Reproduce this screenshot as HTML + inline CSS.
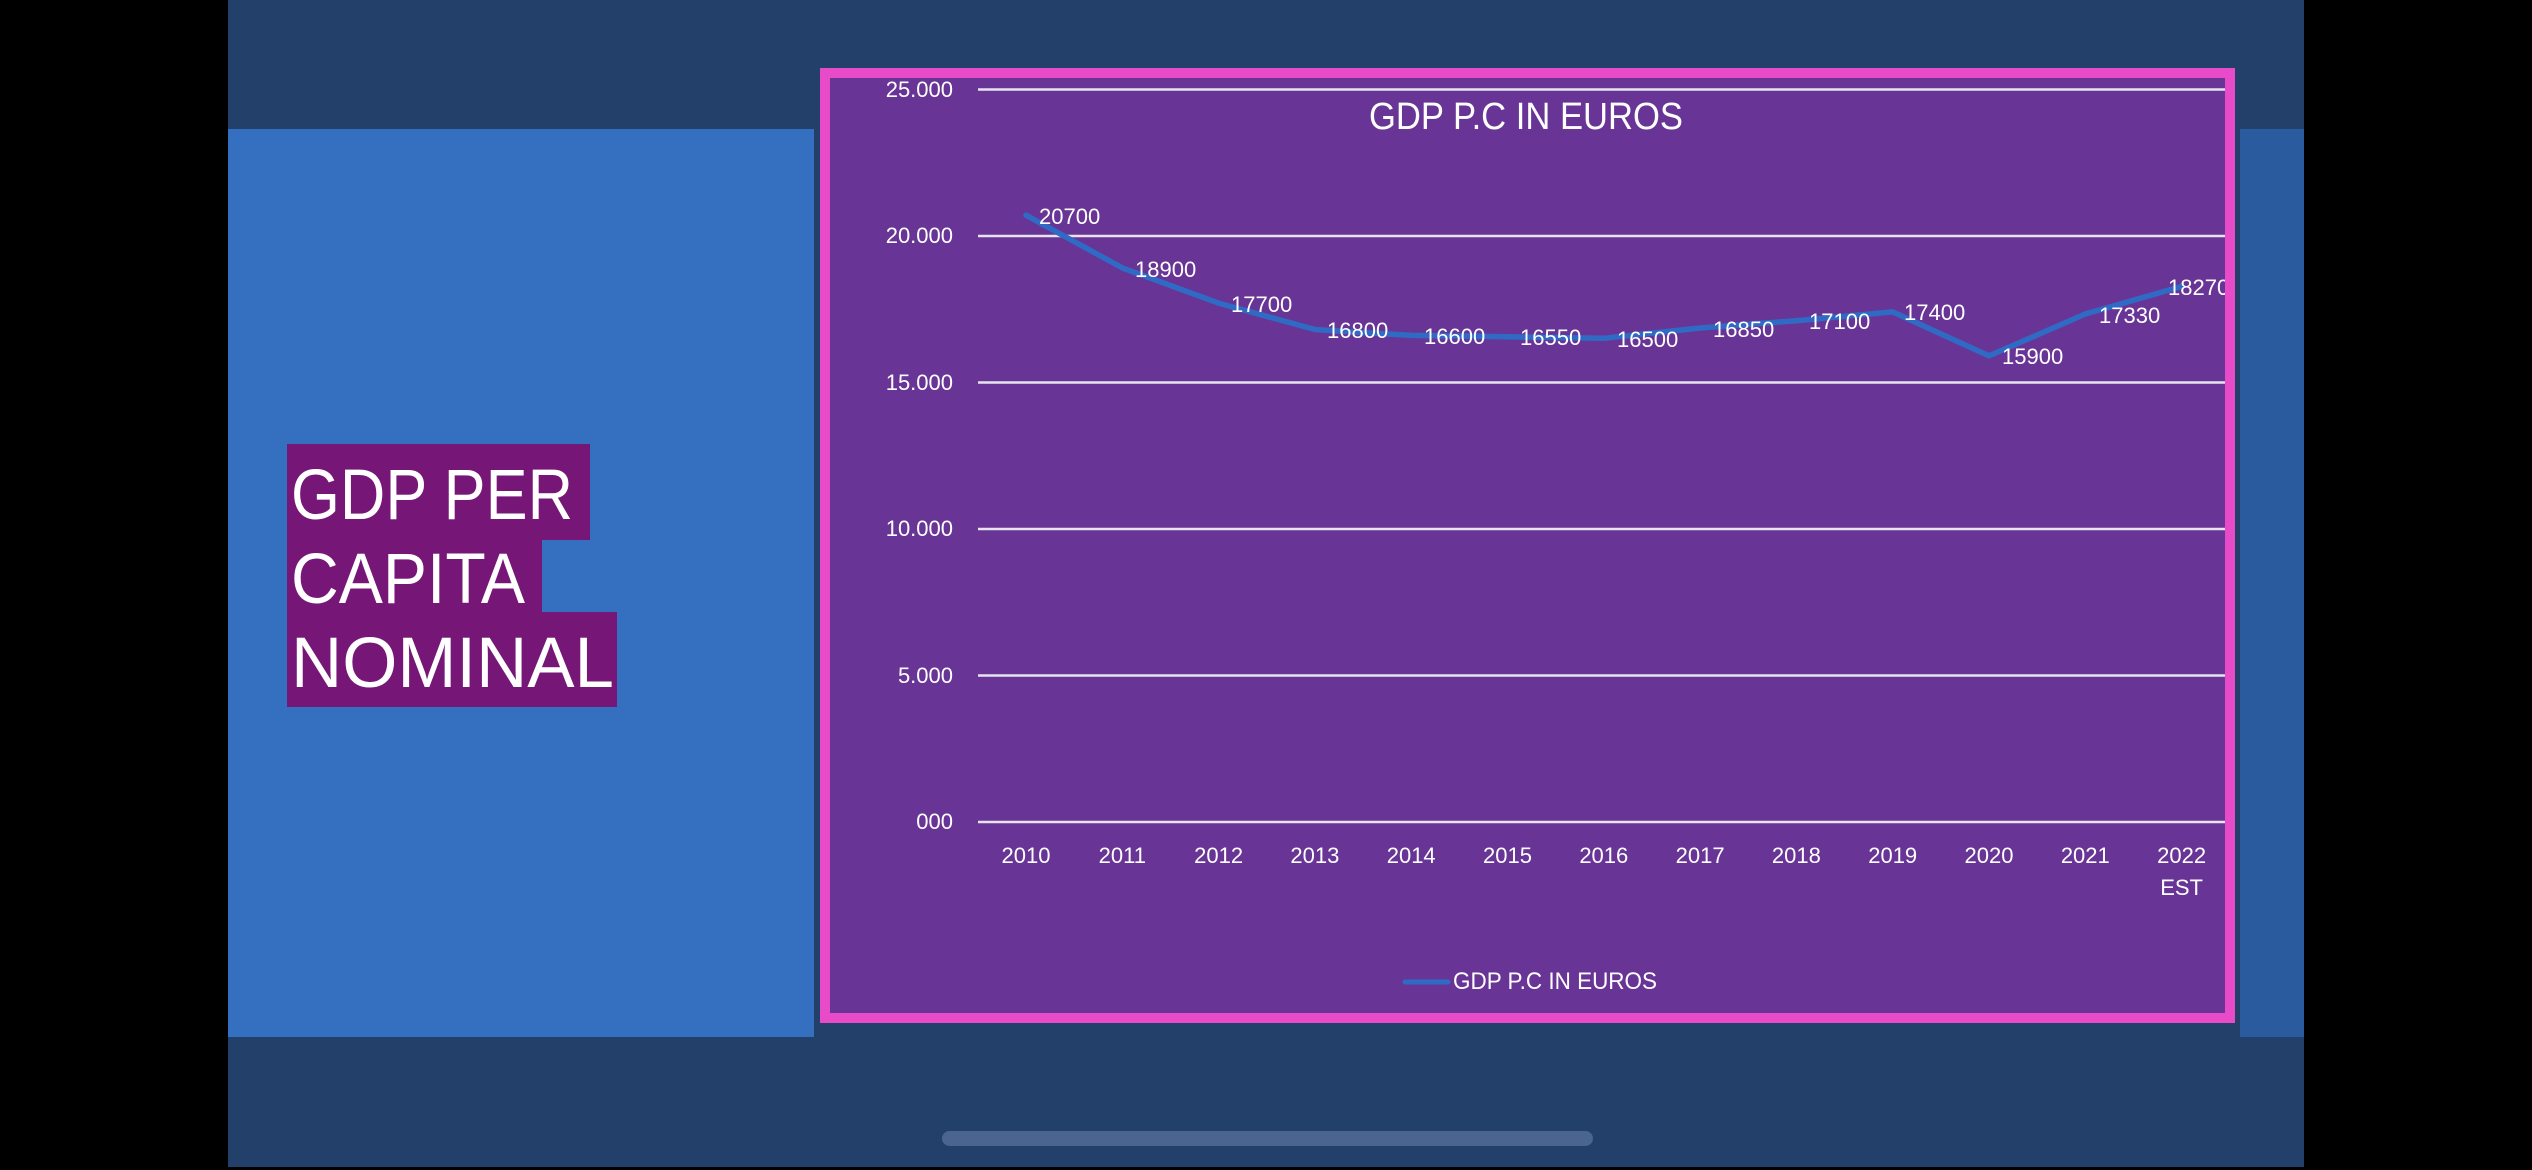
<!DOCTYPE html>
<html>
<head>
<meta charset="utf-8">
<style>
  html, body { margin: 0; padding: 0; background: #000; }
  body { width: 2532px; height: 1170px; overflow: hidden; }
  svg { display: block; }
  text { font-family: "Liberation Sans", "DejaVu Sans", sans-serif; fill: #ffffff; }
</style>
</head>
<body>
<svg width="2532" height="1170" viewBox="0 0 2532 1170" xmlns="http://www.w3.org/2000/svg">
  <!-- background -->
  <rect x="0" y="0" width="2532" height="1170" fill="#000000"/>
  <rect x="228" y="0" width="2076" height="1167" fill="#22406A"/>
  <!-- left blue panel -->
  <rect x="228" y="129" width="586" height="908" fill="#356FBF"/>
  <!-- right blue panel -->
  <rect x="2240" y="129" width="64" height="908" fill="#2A5B9F"/>

  <!-- left title block -->
  <rect x="287" y="444" width="303" height="96" fill="#761778"/>
  <rect x="287" y="540" width="255" height="72" fill="#761778"/>
  <rect x="287" y="612" width="330" height="95" fill="#761778"/>
  <text x="291" y="519" font-size="71" textLength="282" lengthAdjust="spacingAndGlyphs">GDP PER</text>
  <text x="291" y="603" font-size="71" textLength="234" lengthAdjust="spacingAndGlyphs">CAPITA</text>
  <text x="291" y="687" font-size="71" textLength="323" lengthAdjust="spacingAndGlyphs">NOMINAL</text>

  <!-- chart frame -->
  <rect x="820" y="68" width="1415" height="955" fill="#E84BC7"/>
  <rect x="830" y="78" width="1395" height="935" fill="#683596"/>

  <!-- gridlines -->
  <g stroke="#E8E4EE" stroke-width="2.5">
    <line x1="978" y1="89.5" x2="2225" y2="89.5"/>
    <line x1="978" y1="236" x2="2225" y2="236"/>
    <line x1="978" y1="382.5" x2="2225" y2="382.5"/>
    <line x1="978" y1="529" x2="2225" y2="529"/>
    <line x1="978" y1="675.5" x2="2225" y2="675.5"/>
    <line x1="978" y1="822" x2="2225" y2="822"/>
  </g>

  <!-- y axis labels -->
  <g font-size="22" text-anchor="end">
    <text x="953" y="97">25.000</text>
    <text x="953" y="243">20.000</text>
    <text x="953" y="390">15.000</text>
    <text x="953" y="536">10.000</text>
    <text x="953" y="683">5.000</text>
    <text x="953" y="829">000</text>
  </g>

  <!-- title -->
  <text x="1369" y="129" font-size="38" textLength="314" lengthAdjust="spacingAndGlyphs">GDP P.C IN EUROS</text>

  <!-- series line -->
  <polyline fill="none" stroke="#2F6BC4" stroke-width="5.5" stroke-linejoin="round" stroke-linecap="round"
    points="1026,215.2 1122.3,267.9 1218.6,303.1 1314.9,329.5 1411.2,335.4 1507.5,336.8 1603.8,338.3 1700.1,328.0 1796.4,320.7 1892.7,311.9 1989,355.9 2085.3,314.0 2181.6,286.4"/>

  <!-- data labels -->
  <g font-size="22">
    <text x="1039" y="224">20700</text>
    <text x="1135" y="277">18900</text>
    <text x="1231" y="312">17700</text>
    <text x="1327" y="338">16800</text>
    <text x="1424" y="344">16600</text>
    <text x="1520" y="345">16550</text>
    <text x="1617" y="347">16500</text>
    <text x="1713" y="337">16850</text>
    <text x="1809" y="329">17100</text>
    <text x="1904" y="320">17400</text>
    <text x="2002" y="364">15900</text>
    <text x="2099" y="323">17330</text>
    <text x="2168" y="295">18270</text>
  </g>

  <!-- x axis labels -->
  <g font-size="22" text-anchor="middle">
    <text x="1026" y="863">2010</text>
    <text x="1122.3" y="863">2011</text>
    <text x="1218.6" y="863">2012</text>
    <text x="1314.9" y="863">2013</text>
    <text x="1411.2" y="863">2014</text>
    <text x="1507.5" y="863">2015</text>
    <text x="1603.8" y="863">2016</text>
    <text x="1700.1" y="863">2017</text>
    <text x="1796.4" y="863">2018</text>
    <text x="1892.7" y="863">2019</text>
    <text x="1989" y="863">2020</text>
    <text x="2085.3" y="863">2021</text>
    <text x="2181.6" y="863">2022</text>
    <text x="2181.6" y="895">EST</text>
  </g>

  <!-- legend -->
  <line x1="1405" y1="982" x2="1448" y2="982" stroke="#2F6BC4" stroke-width="5" stroke-linecap="round"/>
  <text x="1453" y="989" font-size="24" textLength="204" lengthAdjust="spacingAndGlyphs">GDP P.C IN EUROS</text>

  <!-- right pink border re-drawn on top to clip overflowing label -->
  <rect x="2225" y="68" width="10" height="955" fill="#E84BC7"/>

  <!-- scrollbar / home indicator -->
  <rect x="942" y="1131" width="651" height="15" rx="7.5" ry="7.5" fill="#4A6590"/>
</svg>
</body>
</html>
